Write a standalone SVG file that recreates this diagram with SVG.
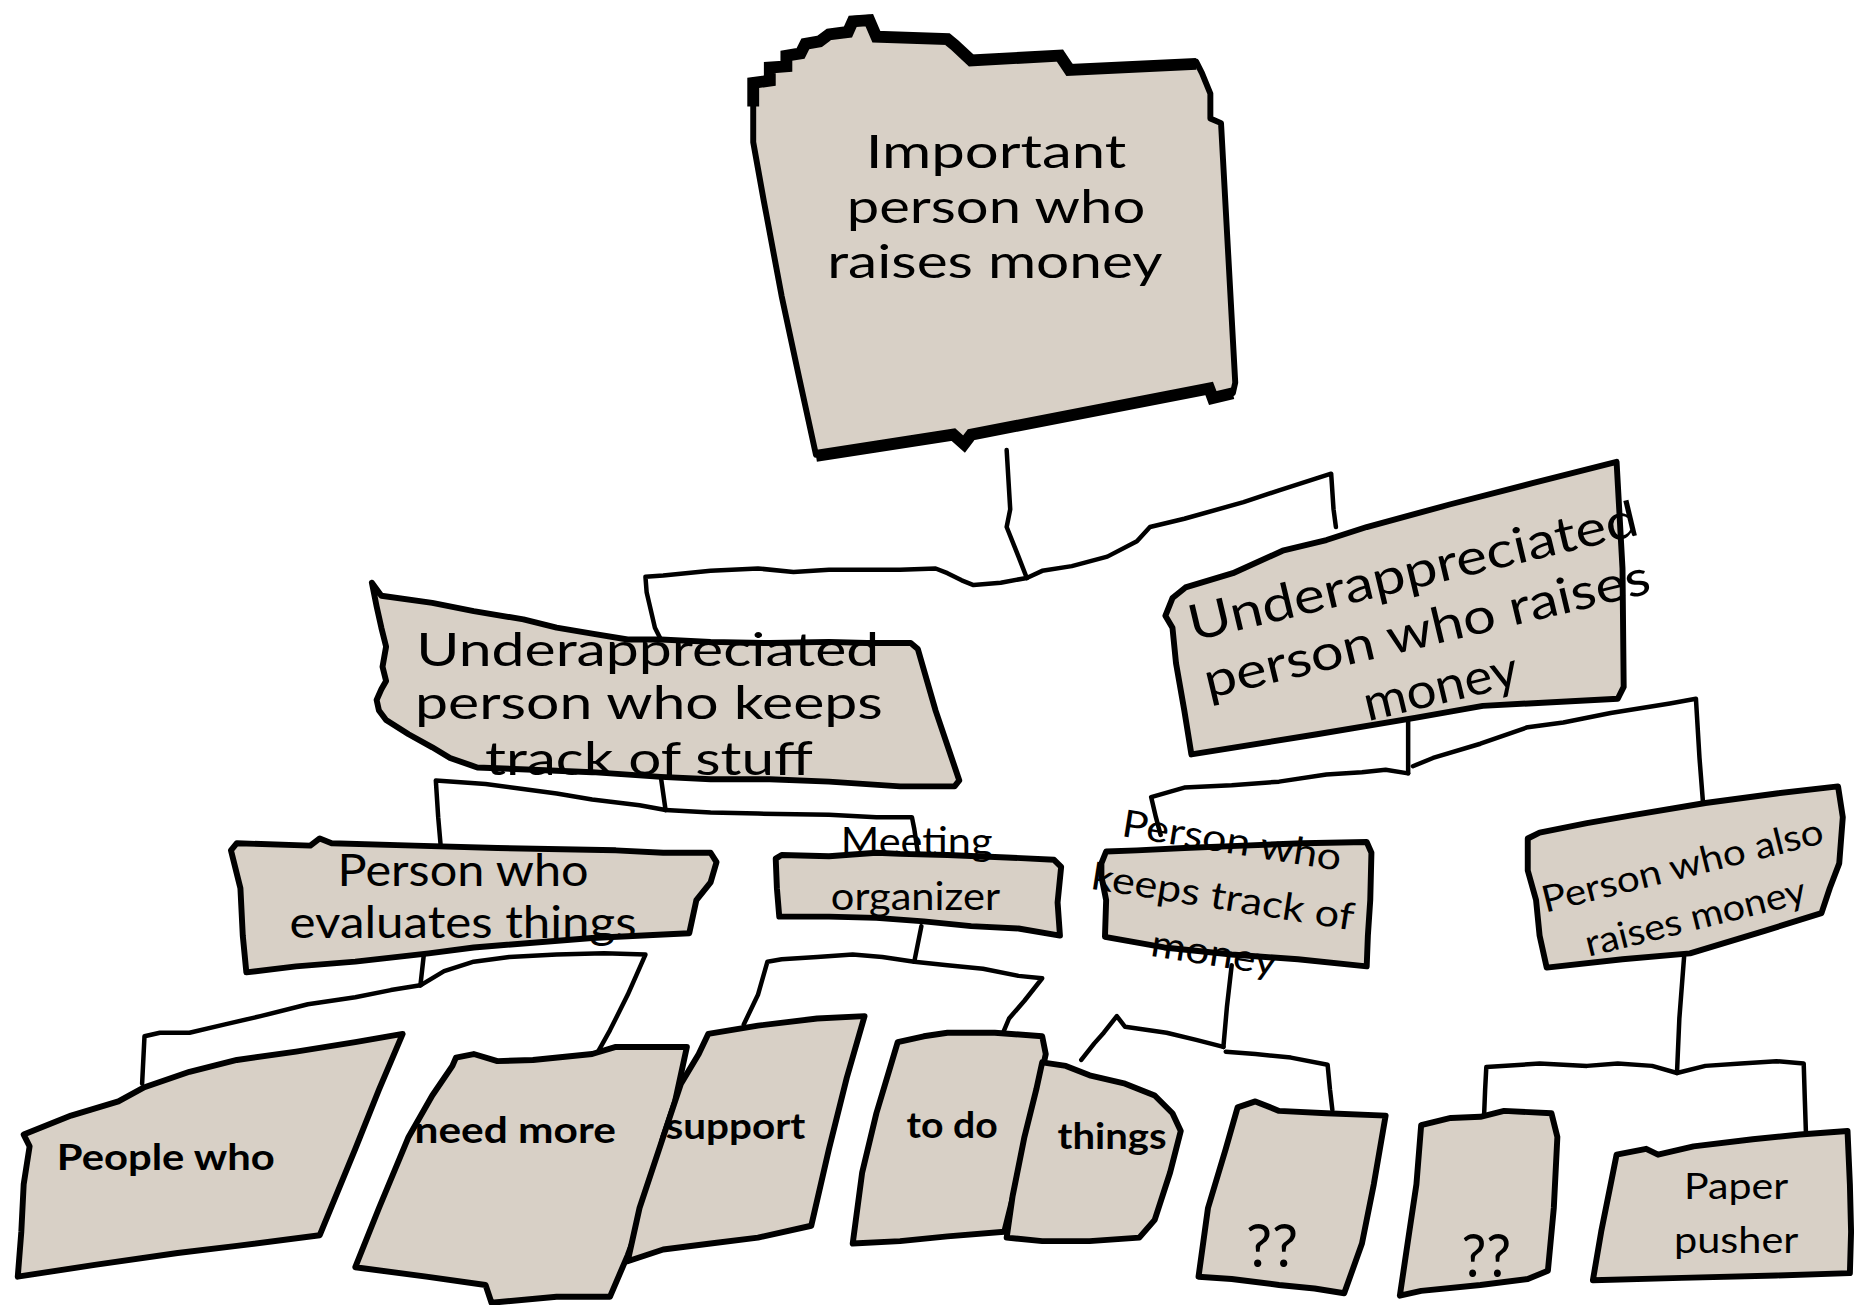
<svg xmlns="http://www.w3.org/2000/svg" width="1857" height="1305" viewBox="0 0 1857 1305">
<style>
.box{fill:#d8d0c6;stroke:#000;stroke-width:5;stroke-linejoin:round}
.edge{fill:none;stroke:#000;stroke-width:10;stroke-linejoin:miter}
.conn{fill:none;stroke:#000;stroke-width:3.8;stroke-linejoin:round;stroke-linecap:round}
.t{font-family:Lato,"Liberation Sans",sans-serif;text-anchor:middle;fill:#000}
.b{font-weight:bold}
</style>
<rect width="1857" height="1305" fill="#fff"/>
<g transform="scale(1.18431)">
<g id="connectors">
<path class="conn" d="M850,380 L853,430 L850,445 L860,470 L867,488"/>
<path class="conn" d="M867,488 L845,492 L822,494 L812,490 L800,484 L790,480 L760,481 L700,481 L670,483 L640,480 L600,482 L560,486 L545,487 L546,500 L553,530 L558,540"/>
<path class="conn" d="M867,488 L880,482 L905,478 L935,470 L960,457 L971,445 L1000,438 L1050,424 L1080,414 L1124,400 L1126,430 L1128,445"/>
<path class="conn" d="M558,656 L562,684"/>
<path class="conn" d="M562,684 L540,680 L500,675 L470,670 L440,666 L410,662 L368,659 L370,690 L372,713"/>
<path class="conn" d="M562,684 L600,686 L640,687 L700,688 L740,690 L770,690 L772,700 L775,720"/>
<path class="conn" d="M358,805 L355,832"/>
<path class="conn" d="M355,832 L330,836 L300,842 L260,848 L220,858 L190,865 L160,872 L135,872 L122,875 L120,915"/>
<path class="conn" d="M355,832 L375,820 L400,812 L430,808 L470,806 L510,805 L545,806 L530,840 L515,870 L505,888"/>
<path class="conn" d="M778,782 L772,812"/>
<path class="conn" d="M772,812 L745,808 L720,806 L690,808 L660,810 L648,812 L640,840 L628,865"/>
<path class="conn" d="M772,812 L800,815 L830,818 L860,824 L880,826 L865,845 L852,860 L847,872"/>
<path class="conn" d="M1189,605 L1189,653"/>
<path class="conn" d="M1189,653 L1170,650 L1150,652 L1120,654 L1080,660 L1040,663 L1000,665 L972,673 L976,690 L980,705"/>
<path class="conn" d="M1193,647 L1210,640 L1250,628 L1290,614 L1320,610 L1360,602 L1410,594 L1432,590 L1435,640 L1438,678"/>
<path class="conn" d="M1040,815 L1036,850 L1033,884"/>
<path class="conn" d="M1033,884 L1010,878 L985,872 L950,867 L943,858 L932,872 L924,881 L913,895"/>
<path class="conn" d="M1035,888 L1060,890 L1090,893 L1121,899 L1123,920 L1125,937"/>
<path class="conn" d="M1422,808 L1418,860 L1416,906"/>
<path class="conn" d="M1416,906 L1395,900 L1366,898 L1340,900 L1300,898 L1255,901 L1254,920 L1253,945"/>
<path class="conn" d="M1416,906 L1440,900 L1470,898 L1500,896 L1523,898 L1524,930 L1525,960"/>
</g>
<g id="n-top">
<path class="box" stroke-width="6" d="M636,120 L636,80 L636,68 L650,68 L650,56 L664,56 L664,46 L676,44 L680,36 L692,34 L700,28 L716,26 L720,16 L734,15 L740,30 L800,32 L806,36 L820,50 L895,46 L903,58 L1010,52 L1015,62 L1022,79 L1022,100 L1031,104 L1043,323 L1041,332 L1024,336 L1021,327 L820,366 L814,374 L805,366 L689,384 L675,320 L660,250 L645,170 Z"/>
<path class="edge" d="M636,90 L636,70 L650,68 L650,57 L664,56 L664,47 L676,45 L680,37 L692,35 L700,29 L716,27 L720,18 L734,17 L740,31 L800,33 L806,38 L820,51 L895,47 L903,59 L1010,54"/>
<path class="edge" stroke-width="8" d="M1041,332 L1024,336 L1021,328 L820,367 L814,375 L805,367 L689,385"/>
<text class="t" font-size="40" x="841" y="142" textLength="220" lengthAdjust="spacingAndGlyphs">Important</text>
<text class="t" font-size="40" x="841" y="188" textLength="252" lengthAdjust="spacingAndGlyphs">person who</text>
<text class="t" font-size="40" x="840" y="235" textLength="283" lengthAdjust="spacingAndGlyphs">raises money</text>
</g>
<g id="n-ua-left">
<path class="box" d="M314,492 L322,503 L365,509 L400,516 L442,523 L470,530 L500,535 L530,540 L558,540 L600,542 L650,543 L700,542 L732,543 L769,543 L775,548 L790,600 L810,659 L806,664 L760,664 L700,660 L650,658 L600,658 L558,656 L500,652 L450,650 L403,648 L380,640 L365,631 L345,620 L326,608 L320,600 L318,591 L322,582 L326,575 L323,563 L326,546 L322,530 L318,512 Z"/>
<text class="t" font-size="40" x="547" y="562" textLength="391" lengthAdjust="spacingAndGlyphs">Underappreciated</text>
<text class="t" font-size="40" x="548" y="607" textLength="395" lengthAdjust="spacingAndGlyphs">person who keeps</text>
<text class="t" font-size="40" x="548" y="654" textLength="277" lengthAdjust="spacingAndGlyphs">track of stuff</text>
</g>
<g id="n-ua-right">
<path class="box" d="M984,520 L990,505 L1001,496 L1041,484 L1083,465 L1120,456 L1154,445 L1224,426 L1294,408 L1365,390 L1370,480 L1371,580 L1366,590 L1252,596 L1196,606 L1112,620 L1006,637 L1000,600 L993,560 L990,530 Z"/>
<g transform="translate(1208,545) rotate(-13.4)">
<text class="t" font-size="42" x="0" y="-50" textLength="389" lengthAdjust="spacingAndGlyphs">Underappreciated</text>
<text class="t" font-size="42" x="0" y="0" textLength="386" lengthAdjust="spacingAndGlyphs">person who raises</text>
<text class="t" font-size="42" x="0" y="50" textLength="133" lengthAdjust="spacingAndGlyphs">money</text>
</g>
</g>
<g id="n-evaluates">
<path class="box" d="M195,718 L200,712 L262,714 L270,708 L280,712 L350,714 L420,716 L520,718 L560,720 L600,720 L605,728 L600,745 L588,760 L582,788 L560,789 L500,792 L400,800 L362,805 L300,812 L250,816 L208,821 L205,790 L203,750 L198,730 Z"/>
<text class="t" font-size="37" x="391" y="748" textLength="212" lengthAdjust="spacingAndGlyphs">Person who</text>
<text class="t" font-size="37" x="391" y="792" textLength="293" lengthAdjust="spacingAndGlyphs">evaluates things</text>
</g>
<g id="n-meeting">
<path class="box" d="M655,725 L660,722 L700,723 L740,720 L760,721 L800,722 L850,724 L890,726 L896,732 L893,762 L895,790 L860,784 L820,782 L780,778 L740,775 L700,774 L658,774 L656,750 Z"/>
<text class="t" font-size="32" x="774" y="722" textLength="128" lengthAdjust="spacingAndGlyphs">Meeting</text>
<text class="t" font-size="32" x="773" y="768" textLength="143" lengthAdjust="spacingAndGlyphs">organizer</text>
</g>
<g id="n-keeps-money">
<path class="box" d="M930,729 L934,719 L960,718 L1000,716 L1050,714 L1100,712 L1154,711 L1158,720 L1157,760 L1155,790 L1154,816 L1096,810 L1040,806 L983,800 L933,791 L934,760 L930,740 Z"/>
<g transform="translate(1031,768) rotate(9)">
<text class="t" font-size="32" x="0" y="-48" textLength="187" lengthAdjust="spacingAndGlyphs">Person who</text>
<text class="t" font-size="32" x="0" y="0" textLength="224" lengthAdjust="spacingAndGlyphs">keeps track of</text>
<text class="t" font-size="32" x="0" y="48" textLength="107" lengthAdjust="spacingAndGlyphs">money</text>
</g>
</g>
<g id="n-also-raises">
<path class="box" d="M1290,708 L1300,703 L1340,695 L1380,688 L1440,678 L1500,670 L1552,664 L1556,690 L1553,729 L1545,750 L1538,771 L1490,786 L1427,805 L1370,810 L1306,817 L1300,790 L1297,760 L1290,735 Z"/>
<g transform="translate(1428.5,763) rotate(-14)">
<text class="t" font-size="31" x="0" y="-22.5" textLength="244" lengthAdjust="spacingAndGlyphs">Person who also</text>
<text class="t" font-size="31" x="0" y="22.5" textLength="191" lengthAdjust="spacingAndGlyphs">raises money</text>
</g>
</g>
<g id="n-people">
<path class="box" d="M20,958 L60,942 L100,930 L122,918 L160,905 L200,895 L250,888 L300,880 L340,873 L320,920 L300,970 L270,1043 L200,1052 L150,1058 L80,1068 L15,1078 L18,1040 L20,1000 L25,968 Z"/>
<text class="t b" font-size="30" x="140" y="988" textLength="184" lengthAdjust="spacingAndGlyphs">People who</text>
</g>
<g id="n-need">
<path class="box" d="M385,893 L400,890 L420,896 L450,895 L500,890 L520,884 L580,884 L570,930 L560,960 L545,1020 L530,1060 L515,1095 L470,1095 L415,1100 L410,1085 L360,1078 L300,1070 L320,1020 L345,960 L365,925 L382,900 Z"/>
<text class="t b" font-size="30" x="435" y="965" textLength="170" lengthAdjust="spacingAndGlyphs">need more</text>
</g>
<g id="n-support">
<path class="box" d="M598,873 L640,866 L690,860 L730,858 L715,910 L700,970 L685,1035 L640,1045 L600,1050 L560,1055 L530,1065 L540,1020 L560,960 L575,915 L590,890 Z"/>
<text class="t b" font-size="30" x="621" y="962" textLength="118" lengthAdjust="spacingAndGlyphs">support</text>
</g>
<g id="n-todo">
<path class="box" d="M758,880 L780,875 L800,872 L840,872 L880,875 L883,890 L870,950 L858,1000 L848,1040 L800,1044 L760,1048 L720,1050 L728,990 L740,940 L752,900 Z"/>
<text class="t b" font-size="30" x="804" y="961" textLength="77" lengthAdjust="spacingAndGlyphs">to do</text>
</g>
<g id="n-things">
<path class="box" d="M880,897 L900,900 L920,908 L950,915 L975,925 L990,940 L997,955 L988,990 L975,1030 L962,1045 L920,1048 L880,1048 L850,1045 L855,1010 L865,960 L875,920 Z"/>
<text class="t b" font-size="30" x="939" y="970" textLength="92" lengthAdjust="spacingAndGlyphs">things</text>
</g>
<g id="n-q1">
<path class="box" d="M1045,935 L1060,930 L1080,938 L1120,940 L1170,942 L1160,1000 L1150,1050 L1135,1092 L1110,1088 L1080,1085 L1040,1080 L1012,1078 L1020,1020 L1035,970 Z"/>
<text class="t" font-size="50" x="1074" y="1070" textLength="44" lengthAdjust="spacingAndGlyphs">??</text>
</g>
<g id="n-q2">
<path class="box" d="M1200,950 L1225,944 L1250,943 L1270,938 L1310,940 L1315,960 L1312,1020 L1307,1073 L1290,1080 L1250,1085 L1200,1090 L1182,1094 L1190,1040 L1196,1000 Z"/>
<text class="t" font-size="50" x="1255" y="1078" textLength="42" lengthAdjust="spacingAndGlyphs">??</text>
</g>
<g id="n-paper">
<path class="box" d="M1365,975 L1390,970 L1400,975 L1430,968 L1480,962 L1520,958 L1560,955 L1562,1000 L1563,1040 L1562,1075 L1500,1077 L1420,1079 L1345,1081 L1352,1040 L1360,1000 Z"/>
<text class="t" font-size="31" x="1466" y="1012" textLength="88" lengthAdjust="spacingAndGlyphs">Paper</text>
<text class="t" font-size="31" x="1466" y="1058" textLength="105" lengthAdjust="spacingAndGlyphs">pusher</text>
</g>
</g>
</svg>
